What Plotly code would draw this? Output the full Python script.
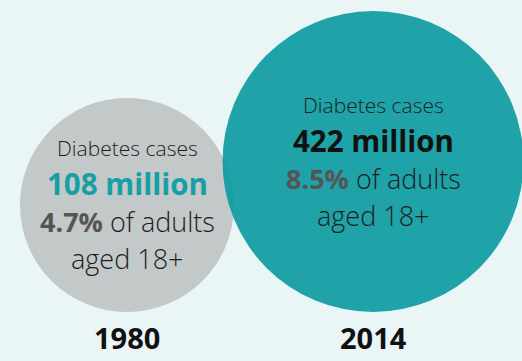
import plotly.graph_objects as go

years = ["1980", "2014"]
cases_millions = [108, 422]
adult_pct = [4.7, 8.5]
case_colors = ["#16a0a5", "#111111"]
fill_colors = ["#c3c8c8", "#0f9ba1"]

W, H = 522, 361
baseline = 312          # bottom of the bubbles, px
k = 66.4                # diameter scale: d = k * value**0.25
x_px = [127, 373]       # category centre positions in px
diam = [k * v ** 0.25 for v in cases_millions]
yc = [baseline - d / 2 for d in diam]

# linear x axis mapping category index -> px
step = x_px[1] - x_px[0]
xr = [-x_px[0] / step, (W - x_px[0]) / step]
idx = list(range(len(years)))

fig = go.Figure()
for i in idx:
    fig.add_trace(go.Scatter(
        x=[i], y=[yc[i]], mode="markers",
        marker=dict(size=diam[i], sizemode="diameter", color=fill_colors[i],
                    opacity=1.0 if i == 0 else 0.93, line=dict(width=0)),
        hoverinfo="skip", showlegend=False))

font = "Open Sans"
ann = []
for i in idx:
    c = yc[i]
    ann.append(dict(x=i, y=c - 57, text="Diabetes cases",
                    font=dict(family=font, size=21, color="#1e1e1e", weight=300)))
    ann.append(dict(x=i, y=c - 21, text=f"<b>{cases_millions[i]} million</b>",
                    font=dict(family=font, size=29.5, color=case_colors[i])))
    ann.append(dict(x=i, y=c + 17,
                    text=f"<span style='color:#555555'><b>{adult_pct[i]}%</b></span> of adults",
                    font=dict(family=font, size=27, color="#1e1e1e", weight=300)))
    ann.append(dict(x=i, y=c + 54, text="aged 18+",
                    font=dict(family=font, size=27, color="#1e1e1e", weight=300)))
    ann.append(dict(x=i, y=337, text=f"<b>{years[i]}</b>",
                    font=dict(family=font, size=29, color="#111111")))
for a in ann:
    a.update(xref="x", yref="y", showarrow=False, xanchor="center", yanchor="middle")

fig.update_layout(
    width=W, height=H, margin=dict(l=0, r=0, t=0, b=0),
    paper_bgcolor="#eaf5f5", plot_bgcolor="#eaf5f5",
    xaxis=dict(range=xr, visible=False, fixedrange=True),
    yaxis=dict(range=[H, 0], visible=False, fixedrange=True),
    annotations=ann, showlegend=False)

fig.write_html("out.html", config={"displayModeBar": False})
